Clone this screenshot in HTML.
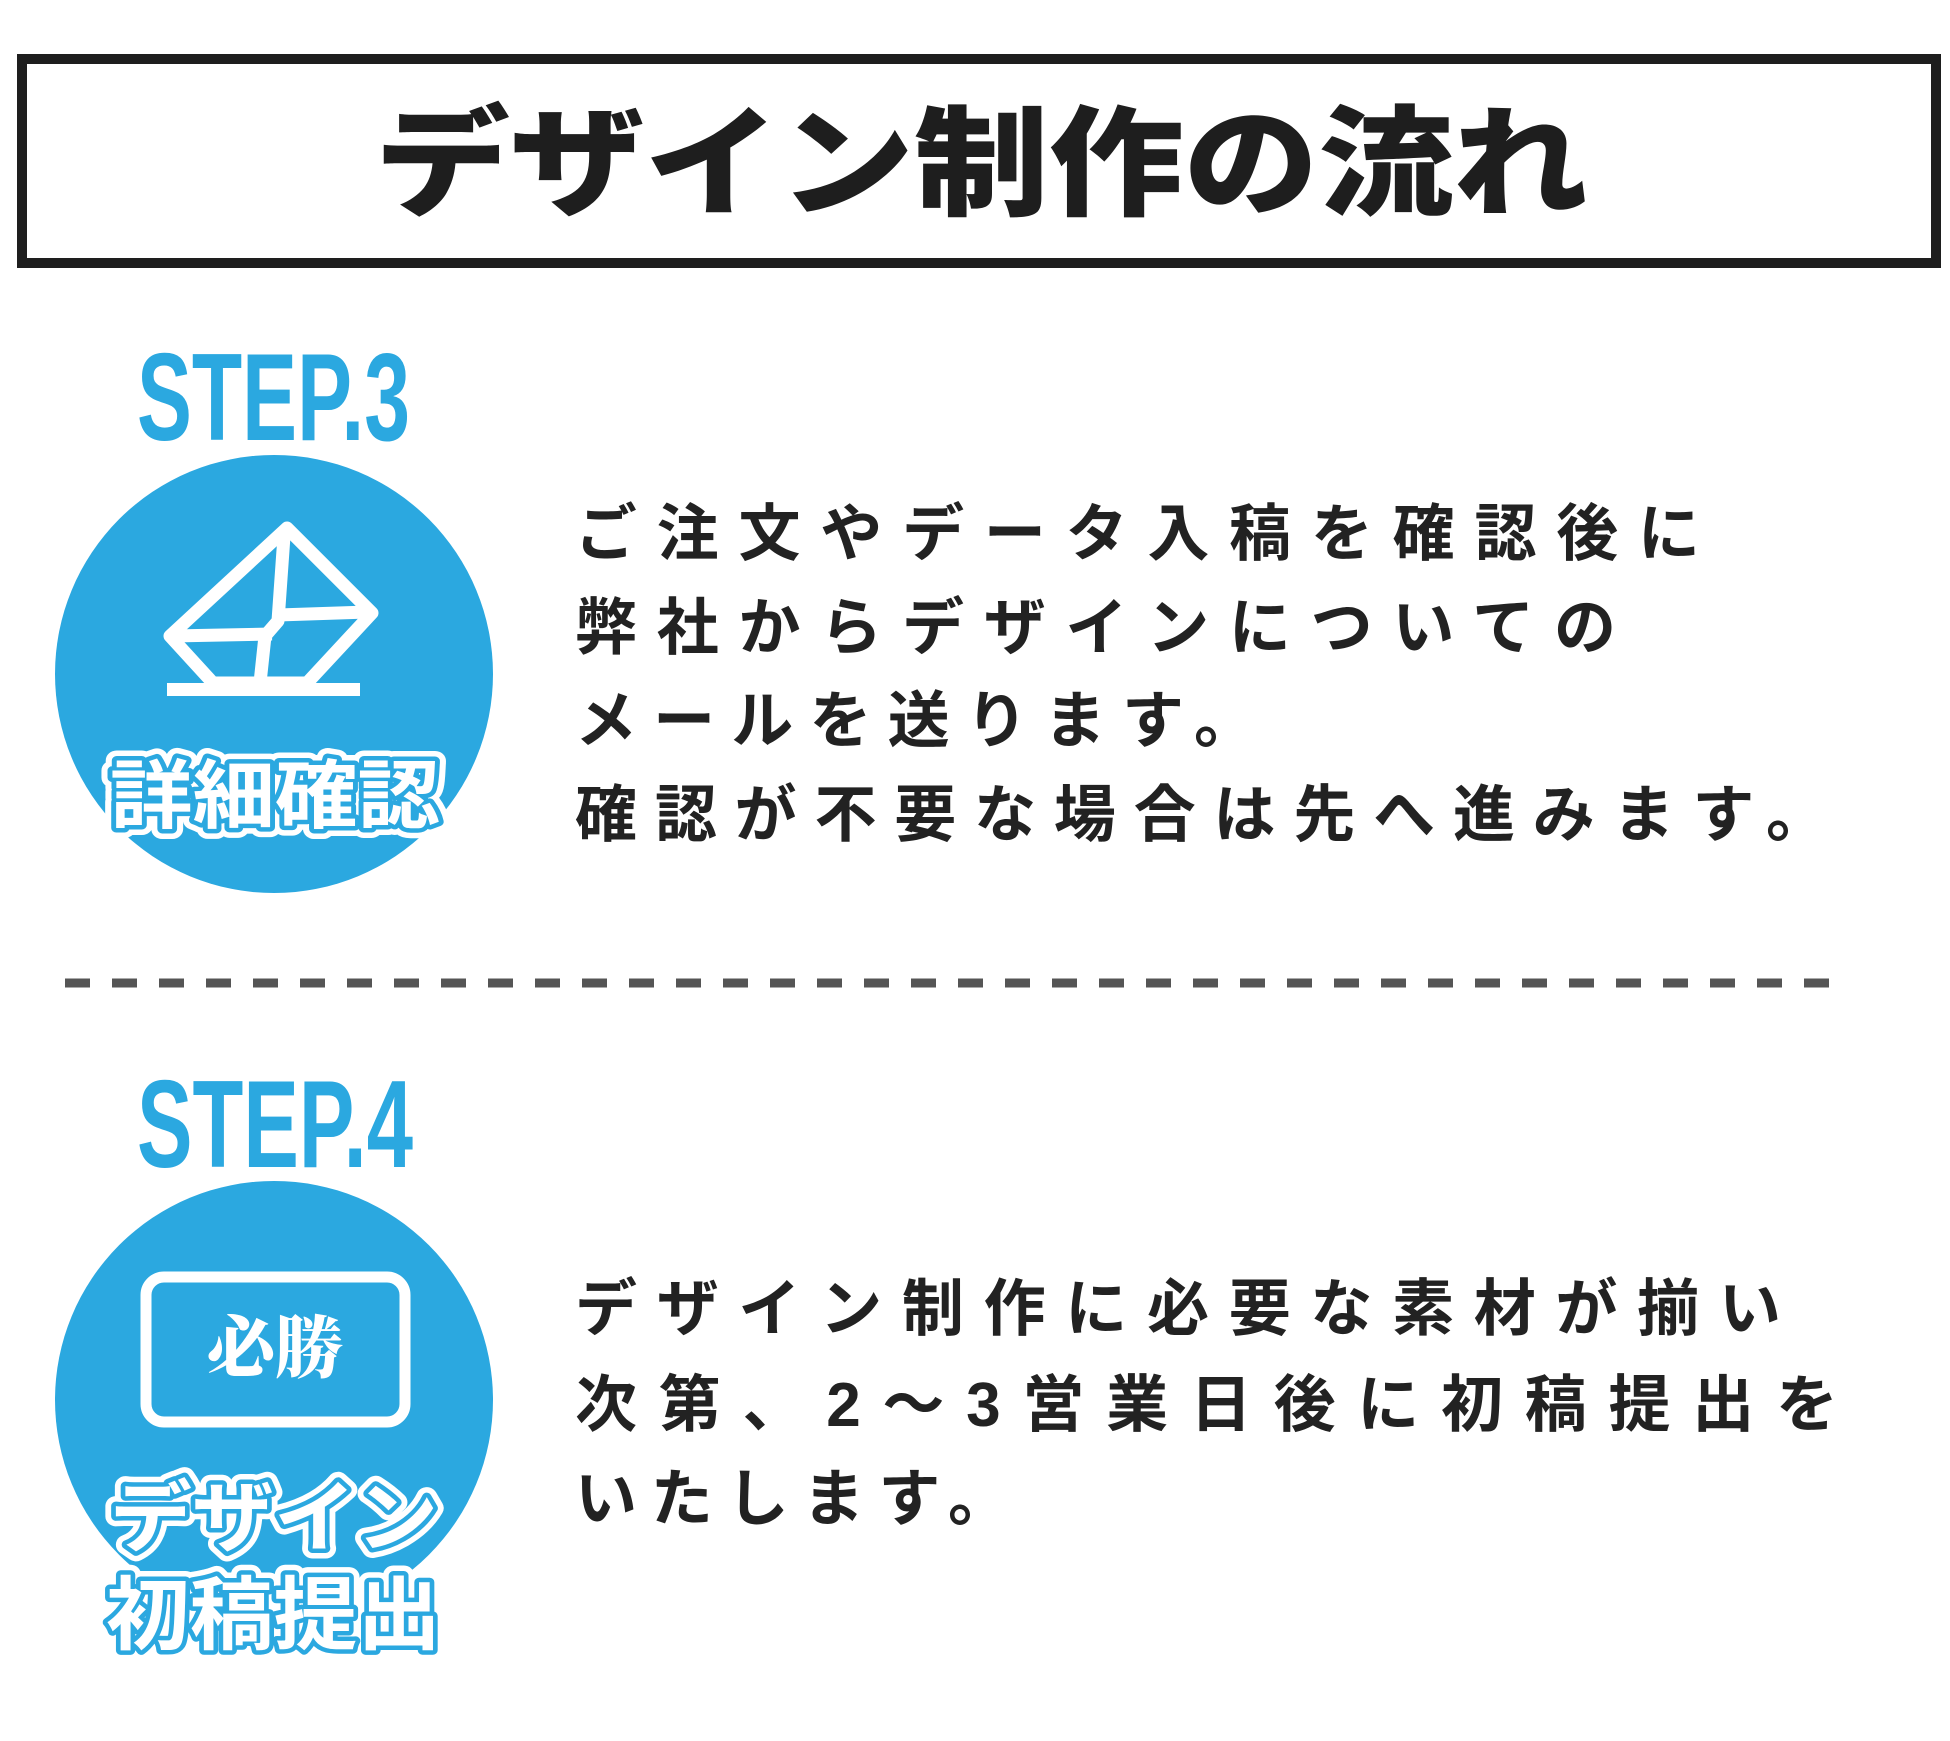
<!DOCTYPE html>
<html><head><meta charset="utf-8"><style>
html,body{margin:0;padding:0;background:#fff;}
svg{display:block;}
.jp{font-family:"Liberation Sans","Noto Sans CJK JP",sans-serif;}
</style></head><body>
<svg width="1950" height="1741" xmlns="http://www.w3.org/2000/svg">
<rect x="22" y="59" width="1914" height="204" fill="none" stroke="#1e1e1e" stroke-width="10"/>
<text class="jp" x="375" y="206" font-size="120" font-weight="900" fill="#1e1e1e" textLength="1213" lengthAdjust="spacingAndGlyphs">デザイン制作の流れ</text>

<text x="137" y="440" font-family="'Liberation Sans Narrow','Liberation Sans',sans-serif" font-weight="bold" font-size="124" fill="#2ba8e0" textLength="273" lengthAdjust="spacingAndGlyphs">STEP.3</text>
<circle cx="274" cy="674" r="219" fill="#2ba8e0"/>
<g fill="none" stroke="#fff" stroke-width="13" stroke-linejoin="round">
<polygon points="287,528 372,613 307,683 213,683 170,636"/>
<polyline points="284,536 278,621 265,636 260,683"/>
<polyline points="172,636 272,634"/>
<polyline points="278,615 368,612"/>
</g>
<rect x="167" y="683" width="193" height="13" fill="#fff"/>
<g class="jp" font-size="75" font-weight="bold" stroke-linejoin="round">
<text x="110" y="822" textLength="330" lengthAdjust="spacingAndGlyphs" fill="#fff" stroke="#fff" stroke-width="20">詳細確認</text>
<text x="110" y="822" textLength="330" lengthAdjust="spacingAndGlyphs" fill="#2ba8e0" stroke="#2ba8e0" stroke-width="9">詳細確認</text>
<text x="110" y="822" textLength="330" lengthAdjust="spacingAndGlyphs" fill="#fff">詳細確認</text>
</g>

<g class="jp" font-size="62" font-weight="bold" fill="#222">
<text x="575" y="555" textLength="1125" lengthAdjust="spacing">ご注文やデータ入稿を確認後に</text>
<text x="575" y="649" textLength="1041" lengthAdjust="spacing">弊社からデザインについての</text>
<text x="575" y="742" textLength="681" lengthAdjust="spacing">メールを送ります。</text>
<text x="575" y="836" textLength="1253" lengthAdjust="spacing">確認が不要な場合は先へ進みます。</text>
</g>

<line x1="65" y1="983" x2="1848" y2="983" stroke="#555" stroke-width="9" stroke-dasharray="25 22"/>

<text x="137" y="1167" font-family="'Liberation Sans Narrow','Liberation Sans',sans-serif" font-weight="bold" font-size="124" fill="#2ba8e0" textLength="276" lengthAdjust="spacingAndGlyphs">STEP.4</text>
<circle cx="274" cy="1400" r="219" fill="#2ba8e0"/>
<rect x="146" y="1277" width="259" height="145" rx="18" fill="none" stroke="#fff" stroke-width="11"/>
<text x="275" y="1372" text-anchor="middle" font-family="'Noto Serif CJK SC','Liberation Serif',serif" font-weight="900" font-size="68" fill="#fff">必勝</text>
<g class="jp" font-weight="bold" stroke-linejoin="round">
<text x="110" y="1545" font-size="78" textLength="328" lengthAdjust="spacingAndGlyphs" fill="#fff" stroke="#fff" stroke-width="20">デザイン</text>
<text x="110" y="1545" font-size="78" textLength="328" lengthAdjust="spacingAndGlyphs" fill="#2ba8e0" stroke="#2ba8e0" stroke-width="9">デザイン</text>
<text x="110" y="1545" font-size="78" textLength="328" lengthAdjust="spacingAndGlyphs" fill="#fff">デザイン</text>
<text x="106" y="1643" font-size="80" textLength="335" lengthAdjust="spacingAndGlyphs" fill="#fff" stroke="#fff" stroke-width="20">初稿提出</text>
<text x="106" y="1643" font-size="80" textLength="335" lengthAdjust="spacingAndGlyphs" fill="#2ba8e0" stroke="#2ba8e0" stroke-width="9">初稿提出</text>
<text x="106" y="1643" font-size="80" textLength="335" lengthAdjust="spacingAndGlyphs" fill="#fff">初稿提出</text>
</g>

<g class="jp" font-size="62" font-weight="bold" fill="#222">
<text x="575" y="1330" textLength="1206" lengthAdjust="spacing">デザイン制作に必要な素材が揃い</text>
<text x="575" y="1426" textLength="1263" lengthAdjust="spacing">次第、2〜3営業日後に初稿提出を</text>
<text x="575" y="1520" textLength="435" lengthAdjust="spacing">いたします。</text>
</g>
</svg>
</body></html>
